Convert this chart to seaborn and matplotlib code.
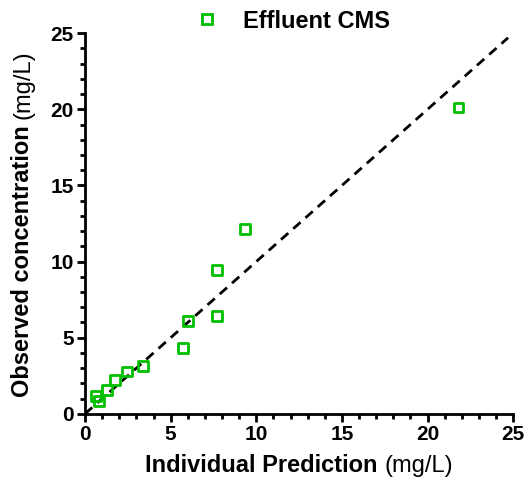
import numpy as np
import pandas as pd
import matplotlib
matplotlib.use("Agg")
import matplotlib.pyplot as plt
import seaborn as sns
from matplotlib.ticker import MultipleLocator

# data
pred = [0.64, 0.82, 1.29, 1.75, 2.45, 3.39, 5.72, 6.02, 7.71, 7.71, 9.35, 21.8]
obs = [1.18, 0.85, 1.57, 2.23, 2.76, 3.15, 4.33, 6.10, 6.43, 9.45, 12.14, 20.1]
group = ["Effluent CMS"] * len(pred)
identity = [0, 24.7]

df = pd.DataFrame({"pred": pred, "obs": obs, "group": group})

green = "#00BE00"
plt.rcParams["font.family"] = ["Liberation Sans", "DejaVu Sans"]
plt.rcParams["text.color"] = "black"

fig = plt.figure(figsize=(5.28, 4.88), dpi=100)
ax = fig.add_axes([0.161, 0.152, 0.811, 0.78])

# identity line
ax.plot(identity, identity, color="black", lw=2, ls=(0, (3.5, 2.4)), zorder=1)

sns.scatterplot(data=df, x="pred", y="obs", hue="group", palette=[green],
                marker="s", s=45, linewidth=2, ax=ax, zorder=3)
for coll in ax.collections:
    coll.set_facecolor("none")
    coll.set_edgecolor(green)

ax.set_xlim(0, 25)
ax.set_ylim(0, 25)
ax.xaxis.set_major_locator(MultipleLocator(5))
ax.yaxis.set_major_locator(MultipleLocator(5))
ax.xaxis.set_minor_locator(MultipleLocator(1))
ax.yaxis.set_minor_locator(MultipleLocator(1))
ax.tick_params(which="major", length=5.5, width=2, direction="out",
               labelsize=15, pad=2.5, colors="black")
ax.tick_params(which="minor", length=3.5, width=2, direction="out", colors="black")
for lab in ax.get_xticklabels() + ax.get_yticklabels():
    lab.set_fontweight("bold")

for s in ["left", "bottom"]:
    ax.spines[s].set_linewidth(2)
    ax.spines[s].set_color("black")
sns.despine(ax=ax)

# axis titles: bold name + regular unit, centred as a whole
ax.set_xlabel("")
ax.set_ylabel("")
r = fig.canvas.get_renderer()
W, H = fig.get_size_inches() * fig.dpi
ax_pos = ax.get_position()
xb = fig.text(0, 0, "Individual Prediction ", fontsize=17, fontweight="bold")
xu = fig.text(0, 0, "(mg/L)", fontsize=17)
w1 = xb.get_window_extent(r).width
w2 = xu.get_window_extent(r).width
cx = (ax_pos.x0 + ax_pos.x1) / 2 * W
base_y = 16 / H
xb.set_position(((cx - (w1 + w2) / 2) / W, base_y))
xu.set_position(((cx - (w1 + w2) / 2 + w1) / W, base_y))

yb = fig.text(0, 0, "Observed concentration ", fontsize=17, fontweight="bold",
              rotation=90, rotation_mode="anchor")
yu = fig.text(0, 0, "(mg/L)", fontsize=17, rotation=90, rotation_mode="anchor")
h1 = yb.get_window_extent(r).height
h2 = yu.get_window_extent(r).height
cy = (ax_pos.y0 + ax_pos.y1) / 2 * H
base_x = 29 / W
yb.set_position((base_x, (cy - (h1 + h2) / 2) / H))
yu.set_position((base_x, (cy - (h1 + h2) / 2 + h1) / H))

leg = ax.legend(loc="center", bbox_to_anchor=(0.471, 1.032), frameon=False,
                fontsize=17, handletextpad=0.5, borderaxespad=0)
for h in leg.legend_handles:
    if hasattr(h, "set_markerfacecolor"):
        h.set_markerfacecolor("none")
        h.set_markeredgecolor(green)
        h.set_markeredgewidth(2)
    else:
        h.set_facecolor("none")
        h.set_edgecolor(green)
        h.set_linewidth(2)
for t in leg.get_texts():
    t.set_fontweight("bold")

fig.savefig("out.png", dpi=100)
